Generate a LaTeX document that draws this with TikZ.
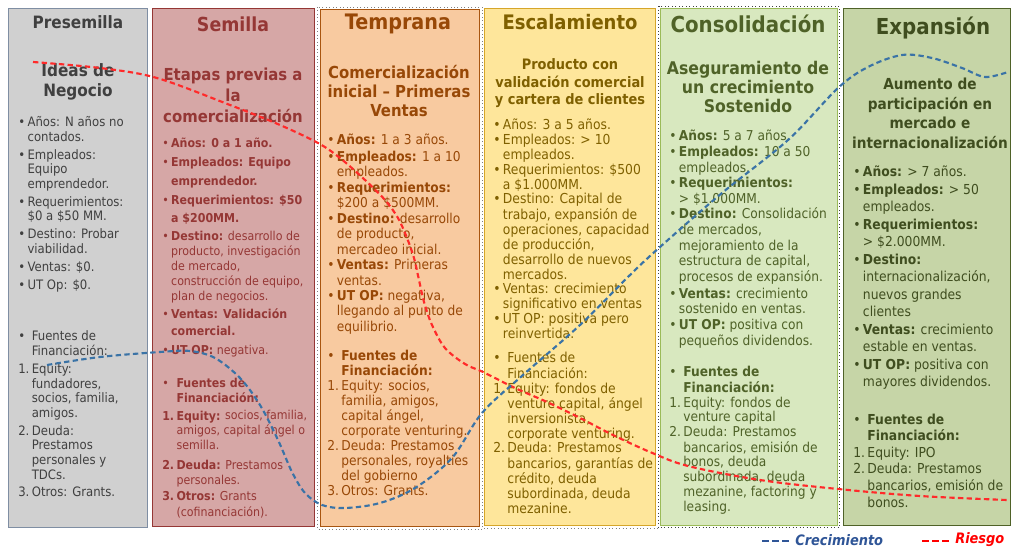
\documentclass[tikz,border=0pt]{standalone}
\usepackage{fontspec}
\setmainfont{DejaVu Sans Condensed}
\usetikzlibrary{calc}
\usetikzlibrary{positioning}

\definecolor{preF}{HTML}{D0D0D0}
\definecolor{preD}{HTML}{7F8EA3}
\definecolor{preC}{HTML}{404040}
\definecolor{semF}{HTML}{D6A7A6}
\definecolor{semD}{HTML}{953735}
\definecolor{semC}{HTML}{953735}
\definecolor{temF}{HTML}{F8CAA0}
\definecolor{temD}{HTML}{A85510}
\definecolor{temC}{HTML}{984807}
\definecolor{escF}{HTML}{FEE69B}
\definecolor{escD}{HTML}{D6A62A}
\definecolor{escC}{HTML}{7F6000}
\definecolor{conF}{HTML}{D8E8BF}
\definecolor{conD}{HTML}{9BBB59}
\definecolor{conC}{HTML}{4F6228}
\definecolor{expF}{HTML}{C6D5A7}
\definecolor{expD}{HTML}{4F6228}
\definecolor{expC}{HTML}{3F4D1F}
\definecolor{dotC}{HTML}{7F7F7F}
\definecolor{crecC}{HTML}{3A73A6}
\definecolor{riesC}{HTML}{FF2A2A}
\definecolor{legB}{HTML}{2F5597}
\definecolor{legR}{HTML}{FF0000}

\newcommand{\blist}[1]{\begin{tabular}[t]{@{}l@{\hspace{1.8pt}}l@{}}#1\end{tabular}}
\newcommand{\clines}[1]{\begin{tabular}[t]{@{}c@{}}#1\end{tabular}}
\newcommand{\fsz}[2]{\fontsize{#1}{#2}\selectfont}

\tikzset{
  stage/.style={anchor=north west, inner sep=0pt, line width=1.1pt},
  dotbox/.style={draw=dotC, line width=0.6pt, dotted},
  sub/.style={anchor=base, inner sep=0pt},
  body/.style={anchor=base west, inner sep=0pt},
  crec/.style={draw=crecC, line width=1.6pt, dash pattern=on 4pt off 2.5pt},
  ries/.style={draw=riesC, line width=1.6pt, dash pattern=on 4pt off 2.5pt},
  legdash/.style={line width=1.6pt, dash pattern=on 5.25pt off 2.25pt},
  legtxt/.style={anchor=west, inner sep=0pt, font=\fsz{10.8}{12}\bfseries\itshape}
}

\begin{document}
\begin{tikzpicture}[x=0.75pt, y=-0.75pt]
  \useasboundingbox[fill=white] (0,0) rectangle (1012,548);

  % stage boxes
  \node[stage, fill=preF, draw=preD, minimum width=104.25pt, minimum height=389.25pt] (pre) at (8,8) {};
  \node[stage, fill=semF, draw=semD, minimum width=121.5pt, minimum height=388.5pt] (sem) at (152,8) {};
  \node[stage, fill=temF, draw=temD, minimum width=119.25pt, minimum height=387.75pt] (tem) at (320,9) {};
  \node[stage, fill=escF, draw=escD, minimum width=128.25pt, minimum height=387.75pt] (esc) at (484,8) {};
  \node[stage, fill=conF, draw=conD, line width=0.8pt, minimum width=132.75pt, minimum height=387.75pt] (con) at (660,8) {};
  \node[stage, fill=expF, draw=expD, minimum width=125.25pt, minimum height=387.75pt] (exp) at (843,8) {};
  \draw[dotbox] ($(tem.north west)+(-2.5,-2)$) rectangle ($(tem.south east)+(2,2)$);
  \draw[dotbox] ($(esc.south west)+(0,2)$) -- ($(esc.south east)+(2,2)$);
  \draw[dotbox, draw=preC] ($(con.north west)+(-1.5,-1.5)$) rectangle ($(con.south east)+(1.5,1.5)$);

  % titles
  \node[text=preC, font=\fsz{12.75}{15}\bfseries] (preT) at (78,22) {Presemilla};
  \node[text=semC, font=\fsz{14.5}{17}\bfseries] (semT) at (233,24) {Semilla};
  \node[text=temC, font=\fsz{16}{19}\bfseries] (temT) at (398,24) {Temprana};
  \node[text=escC, font=\fsz{15}{18}\bfseries] (escT) at (570,22) {Escalamiento};
  \node[text=conC, font=\fsz{16.5}{19}\bfseries] (conT) at (748,24) {Consolidación};
  \node[text=expC, font=\fsz{16.5}{19}\bfseries] (expT) at (933,28) {Expansión};

  % subtitles
  \node[sub, text=preC, font=\fsz{12.75}{15}\bfseries] (preS) at (78,77) {\clines{Ideas de\\Negocio}};
  \node[sub, text=semC, font=\fsz{12.4}{15.75}\bfseries] (semS) at (233,81) {\clines{Etapas previas a\\la\\comercialización}};
  \node[sub, text=temC, font=\fsz{12.4}{13.9}\bfseries] (temS) at (399,79) {\clines{Comercialización\\inicial – Primeras\\Ventas}};
  \node[sub, text=escC, font=\fsz{10.8}{13.1}\bfseries] (escS) at (570,70) {\clines{Producto con\\validación comercial\\y cartera de clientes}};
  \node[sub, text=conC, font=\fsz{13.1}{14.25}\bfseries] (conS) at (748,75) {\clines{Aseguramiento de\\un crecimiento\\Sostenido}};
  \node[sub, text=expC, font=\fsz{11.4}{14.6}\bfseries] (expS) at (930,90) {\clines{Aumento de\\participación en\\mercado e\\internacionalización}};

  % Presemilla
  \node[body, text=preC, font=\fsz{9.75}{10.9}] (preA) at (18,127) {\blist{
    • & Años: N años no\\ & contados.\\[2.5pt]
    • & Empleados:\\ & Equipo\\ & emprendedor.\\[2.5pt]
    • & Requerimientos:\\ & \$0 a \$50 MM.\\[2.5pt]
    • & Destino: Probar\\ & viabilidad.\\[2.5pt]
    • & Ventas: \$0.\\[3pt]
    • & UT Op: \$0.}};
  \node[body, text=preC, font=\fsz{9.75}{11}] (preB) at (18,341) {\blist{
    • & Fuentes de\\ & Financiación:\\[2.25pt]
    1. & Equity:\\ & fundadores,\\ & socios, familia,\\ & amigos.\\[2.25pt]
    2. & Deuda:\\ & Prestamos\\ & personales y\\ & TDCs.\\[2.25pt]
    3. & Otros: Grants.}};

  % Semilla
  \node[body, text=semC, font=\fsz{9.2}{11.25}] (semA) at (162,148) {\blist{
    • & \textbf{Años: 0 a 1 año.}\\[3pt]
    • & \textbf{Empleados: Equipo}\\[3pt] & \textbf{emprendedor.}\\[3pt]
    • & \textbf{Requerimientos: \$50}\\[2.25pt] & \textbf{a \$200MM.}\\[2.25pt]
    • & \textbf{Destino:} desarrollo de\\ & producto, investigación\\ & de mercado,\\ & construcción de equipo,\\ & plan de negocios.\\[2.25pt]
    • & \textbf{Ventas: Validación}\\[1.5pt] & \textbf{comercial.}\\[3pt]
    • & \textbf{UT OP:} negativa.}};
  \node[body, text=semC, font=\fsz{9.2}{11.25}] (semB) at (162,387) {\blist{
    • & \textbf{Fuentes de}\\ & \textbf{Financiación:}\\[2.25pt]
    \textbf{1.} & \textbf{Equity:} socios, familia,\\ & amigos, capital ángel o\\ & semilla.\\[3pt]
    \textbf{2.} & \textbf{Deuda:} Prestamos\\ & personales.\\[1.5pt]
    \textbf{3.} & \textbf{Otros:} Grants\\ & (cofinanciación).}};

  % Temprana
  \node[body, text=temC, font=\fsz{10.2}{11.6}] (temA) at (327,144.5) {\blist{
    • & \textbf{Años:} 1 a 3 años.\\[1pt]
    • & \textbf{Empleados:} 1 a 10\\ & empleados.\\
    • & \textbf{Requerimientos:}\\ & \$200 a \$500MM.\\
    • & \textbf{Destino:} desarrollo\\ & de producto,\\ & mercadeo inicial.\\
    • & \textbf{Ventas:} Primeras\\ & ventas.\\
    • & \textbf{UT OP:} negativa,\\ & llegando al punto de\\ & equilibrio.}};
  \node[body, text=temC, font=\fsz{10.2}{11.25}] (temB) at (327,360) {\blist{
    • & \textbf{Fuentes de}\\ & \textbf{Financiación:}\\
    1. & Equity: socios,\\ & familia, amigos,\\ & capital ángel,\\ & corporate venturing.\\
    2. & Deuda: Prestamos\\ & personales, royalties\\ & del gobierno\\
    3. & Otros: Grants.}};

  % Escalamiento
  \node[body, text=escC, font=\fsz{10.3}{10.9}] (escA) at (493,130) {\blist{
    • & Años: 3 a 5 años.\\
    • & Empleados: > 10\\ & empleados.\\
    • & Requerimientos: \$500\\ & a \$1.000MM.\\
    • & Destino: Capital de\\ & trabajo, expansión de\\ & operaciones, capacidad\\ & de producción,\\ & desarrollo de nuevos\\ & mercados.\\
    • & Ventas: crecimiento\\ & significativo en ventas\\
    • & UT OP: positiva pero\\ & reinvertida.}};
  \node[body, text=escC, font=\fsz{10.3}{10.9}] (escB) at (493,363) {\blist{
    • & Fuentes de\\ & Financiación:\\
    1. & Equity: fondos de\\ & venture capital, ángel\\ & inversionista,\\ & corporate venturing.\\
    2. & Deuda: Prestamos\\ & bancarios, garantías de\\ & crédito, deuda\\ & subordinada, deuda\\ & mezanine.}};

  % Consolidacion
  \node[body, text=conC, font=\fsz{10.2}{11.7}] (conA) at (669,141) {\blist{
    • & \textbf{Años:} 5 a 7 años.\\
    • & \textbf{Empleados:} 10 a 50\\ & empleados.\\
    • & \textbf{Requerimientos:}\\ & > \$1.000MM.\\
    • & \textbf{Destino:} Consolidación\\ & de mercados,\\ & mejoramiento de la\\ & estructura de capital,\\ & procesos de expansión.\\[1pt]
    • & \textbf{Ventas:} crecimiento\\ & sostenido en ventas.\\
    • & \textbf{UT OP:} positiva con\\ & pequeños dividendos.}};
  \node[body, text=conC, font=\fsz{10.2}{11.1}] (conB) at (669,377) {\blist{
    • & \textbf{Fuentes de}\\ & \textbf{Financiación:}\\
    1. & Equity: fondos de\\ & venture capital\\
    2. & Deuda: Prestamos\\ & bancarios, emisión de\\ & bonos, deuda\\ & subordinada, deuda\\ & mezanine, factoring y\\ & leasing.}};

  % Expansion
  \node[body, text=expC, font=\fsz{10.3}{13.1}] (expA) at (853,177) {\blist{
    • & \textbf{Años:} > 7 años.\\
    • & \textbf{Empleados:} > 50\\ & empleados.\\
    • & \textbf{Requerimientos:}\\ & > \$2.000MM.\\
    • & \textbf{Destino:}\\ & internacionalización,\\ & nuevos grandes\\ & clientes\\
    • & \textbf{Ventas:} crecimiento\\ & estable en ventas.\\
    • & \textbf{UT OP:} positiva con\\ & mayores dividendos.}};
  \node[body, text=expC, font=\fsz{10.3}{12.45}] (expB) at (853,424) {\blist{
    • & \textbf{Fuentes de}\\ & \textbf{Financiación:}\\
    1. & Equity: IPO\\
    2. & Deuda: Prestamos\\ & bancarios, emisión de\\ & bonos.}};

  % curves
  \draw[ries] plot[smooth, tension=0.55] coordinates {(33,62) (100,68) (157,78) (230,105) (280,125) (318,143) (340,158) (365,180) (385,200) (398,218) (407,238) (414,258) (419,280) (424,302) (432,325) (445,348) (465,364) (483,372) (515,388) (547,402) (580,418) (613,435) (650,452) (688,466) (760,480) (838,489) (920,496) (1007,500)};
  \draw[crec] plot[smooth, tension=0.55] coordinates {(47,365) (100,357) (160,352) (190,351) (215,358) (240,378) (260,405) (278,440) (292,472) (305,493) (322,505) (345,508) (380,503) (415,488) (452,458) (482,413) (523,375) (580,325) (630,275) (660,247) (722,193) (788,140) (838,88) (868,67) (902,55) (932,58) (962,68) (985,77) (1008,72)};

  % legend
  \node[legtxt, text=legB] (lgCrec) at (795,540) {Crecimiento};
  \node[legtxt, text=legR] (lgRies) at (955,540) {Riesgo};
  \coordinate (lgCa) at (762,541);
  \coordinate (lgCb) at (789,541);
  \coordinate (lgRa) at (922,541);
  \coordinate (lgRb) at (949,541);
  \draw[legdash, draw=legB] (lgCa) -- (lgCb);
  \draw[legdash, draw=legR] (lgRa) -- (lgRb);
\end{tikzpicture}
\end{document}
